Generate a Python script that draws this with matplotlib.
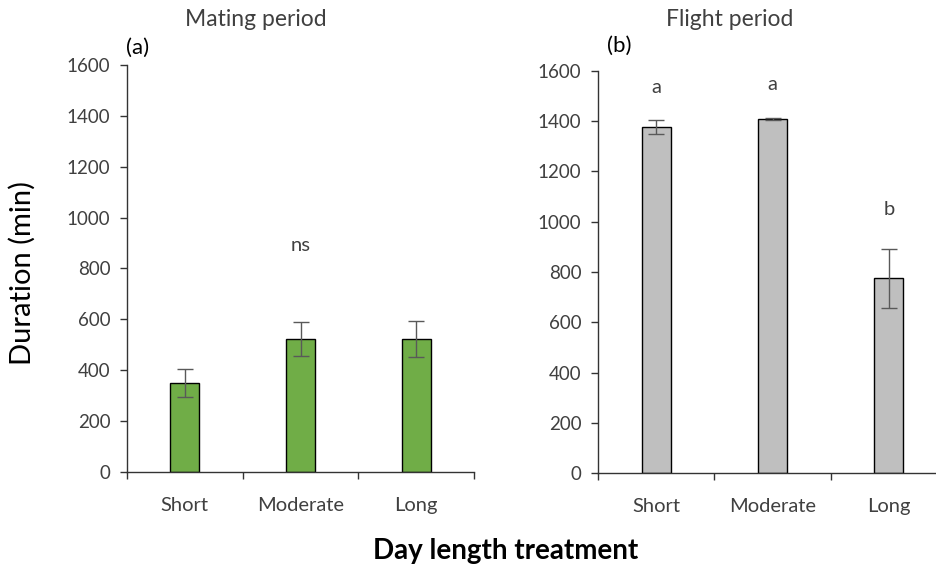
import numpy as np
import matplotlib.pyplot as plt

plt.rcParams['font.family'] = ['Lato', 'DejaVu Sans']

# data
treatments = ['Short', 'Moderate', 'Long']
mating_mean = [350, 522, 522]
mating_se = [56, 68, 70]
flight_mean = [1375, 1408, 775]
flight_se = [28, 4, 118]
mating_letters = ['', 'ns', '']
mating_letter_y = [0, 890, 0]
flight_letters = ['a', 'a', 'b']
flight_letter_y = [1535, 1545, 1050]

txt = '#404040'
fig = plt.figure(figsize=(9.36, 5.67), dpi=100)


def panel(rect, means, errs, color, letters, letter_y):
    ax = fig.add_axes(rect)
    x = np.arange(len(treatments)) + 0.5
    ax.bar(x, means, width=0.25, color=color, edgecolor='black', linewidth=1.0, zorder=2)
    ax.errorbar(x, means, yerr=errs, fmt='none', ecolor='#595959', elinewidth=1.0,
                capsize=6, capthick=1.0, zorder=3)
    for xi, s, yy in zip(x, letters, letter_y):
        if s:
            ax.text(xi, yy, s, ha='center', va='center', fontsize=14.5, color=txt)
    ax.set_xlim(0, 3)
    ax.set_ylim(0, 1600)
    ax.set_yticks(np.arange(0, 1601, 200))
    ax.set_xticks(x)
    ax.set_xticklabels(treatments)
    ax.set_xticks([0, 1, 2, 3], minor=True)
    ax.tick_params(axis='x', which='major', length=0, pad=18, labelsize=14.5, labelcolor=txt)
    ax.tick_params(axis='x', which='minor', length=5, width=1.0, color='#333333')
    ax.tick_params(axis='y', length=5, width=1.0, color='#333333', pad=7,
                   labelsize=13.5, labelcolor=txt)
    for side in ['top', 'right']:
        ax.spines[side].set_visible(False)
    for side in ['left', 'bottom']:
        ax.spines[side].set_color('#333333')
        ax.spines[side].set_linewidth(1.0)
    return ax


panel([0.1357, 0.1676, 0.3707, 0.7178], mating_mean, mating_se, '#70AD47',
      mating_letters, mating_letter_y)
panel([0.6389, 0.1653, 0.3729, 0.7100], flight_mean, flight_se, '#BFBFBF',
      flight_letters, flight_letter_y)

fig.text(0.2735, 0.965, 'Mating period', ha='center', va='center', fontsize=16.5, color=txt)
fig.text(0.780, 0.965, 'Flight period', ha='center', va='center', fontsize=16.5, color=txt)
fig.text(0.135, 0.915, '(a)', ha='left', va='center', fontsize=16, color='black')
fig.text(0.648, 0.920, '(b)', ha='left', va='center', fontsize=16, color='black')
fig.text(0.024, 0.518, 'Duration (min)', ha='center', va='center', rotation=90,
         fontsize=21, color='black')
fig.text(0.540, 0.028, 'Day length treatment', ha='center', va='center',
         fontsize=20, fontweight='bold', color='black')

fig.savefig('out.png', dpi=100)
